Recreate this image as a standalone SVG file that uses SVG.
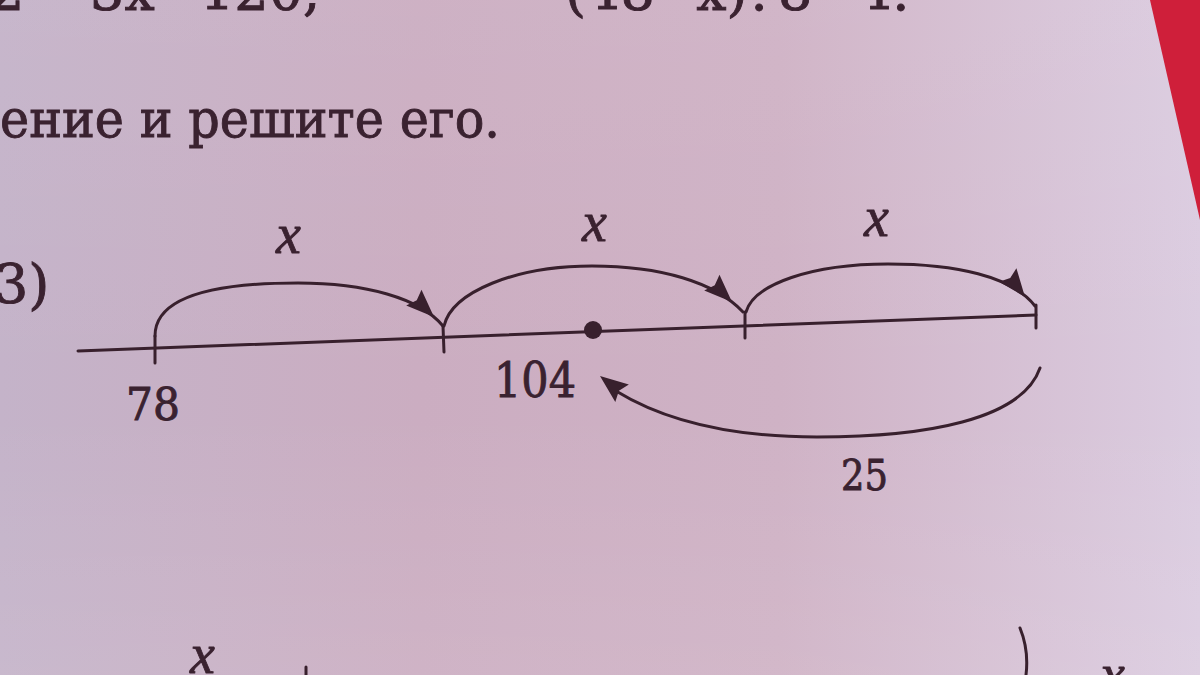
<svg xmlns="http://www.w3.org/2000/svg" width="1200" height="675" viewBox="0 0 1200 675">
<defs>
<linearGradient id="page" x1="0" y1="0" x2="1" y2="0">
<stop offset="0" stop-color="#c4b3c9"/>
<stop offset="0.35" stop-color="#cbadc1"/>
<stop offset="0.65" stop-color="#cfb2c5"/>
<stop offset="1" stop-color="#dbcce0"/>
</linearGradient>
<linearGradient id="shade" x1="0" y1="0" x2="0" y2="1">
<stop offset="0" stop-color="#ffffff" stop-opacity="0.05"/>
<stop offset="0.6" stop-color="#ffffff" stop-opacity="0"/>
<stop offset="1" stop-color="#ffffff" stop-opacity="0.08"/>
</linearGradient>
<path id="ah" d="M0,0 L-28,-11 L-24,0 L-28,11 Z"/>
<style>
.ink{stroke:#38202d;stroke-width:3;fill:none;stroke-linecap:round}
.fill{fill:#38202d}
.t{font-family:"DejaVu Serif","Liberation Serif",serif;fill:#3a2230;stroke:#3a2230;stroke-width:0.9}
.it{font-family:"Liberation Serif","DejaVu Serif",serif;font-style:italic;fill:#3a2230;stroke:#3a2230;stroke-width:0.8}
</style>
</defs>
<rect width="1200" height="675" fill="url(#page)"/>
<rect width="1200" height="675" fill="url(#shade)"/>
<polygon points="1150,0 1200,0 1200,220" fill="#cf1f3a"/>

<g id="top-text">
<text class="t" font-size="54" y="10"><tspan x="-10">2</tspan><tspan x="90">3x</tspan><tspan x="200">120;</tspan></text>
<text class="t" font-size="54" y="10"><tspan x="565">(48</tspan><tspan x="696">x)</tspan><tspan x="750">:</tspan><tspan x="778">8</tspan><tspan x="858">4.</tspan></text>
<text class="t" font-size="52" x="0" y="137" textLength="500" lengthAdjust="spacingAndGlyphs">ение и решите его.</text>
</g>

<g id="label-3">
<text class="t" font-size="54" x="-6" y="303">3)</text>
</g>

<g id="axis">
<path class="ink" d="M78,351 L1036,315"/>
</g>

<g id="point-78">
<path class="ink" d="M155,363 L155,336"/>
<text class="t" font-size="44" x="126" y="420" textLength="54" lengthAdjust="spacingAndGlyphs">78</text>
</g>
<g id="point-a">
<path class="ink" d="M443,326 L444,352"/>
</g>
<g id="point-104">
<circle cx="593" cy="330" r="9" class="fill"/>
<text class="t" font-size="48" x="494" y="397" textLength="82" lengthAdjust="spacingAndGlyphs">104</text>
</g>
<g id="point-b">
<path class="ink" d="M745,312 L745,338"/>
</g>
<g id="point-c">
<path class="ink" d="M1036,305 L1036,328"/>
</g>

<g id="connectors">
<path class="ink" d="M155,336 C155,300 205,283 298,283 C365,283 420,298 443,326"/>
<use href="#ah" class="fill" transform="translate(434,317) rotate(44)"/>
<path class="ink" d="M444,326 C452,292 515,266 592,266 C660,266 715,282 743,312"/>
<use href="#ah" class="fill" transform="translate(732,302) rotate(44)"/>
<path class="ink" d="M746,312 C754,284 812,264 888,264 C955,264 1012,276 1035,306"/>
<use href="#ah" class="fill" transform="translate(1025,297) rotate(52)"/>
<path class="ink" d="M1040,368 C1022,420 925,437 817,437 C725,437 660,418 616,391"/>
<use href="#ah" class="fill" transform="translate(600,376) rotate(218)"/>
<text class="it" font-size="56" x="276" y="253">x</text>
<text class="it" font-size="56" x="582" y="241">x</text>
<text class="it" font-size="56" x="864" y="236">x</text>
<text class="t" font-size="42" x="841" y="490" textLength="47" lengthAdjust="spacingAndGlyphs">25</text>
</g>

<g id="bottom">
<text class="it" font-size="56" x="190" y="673">x</text>
<path class="ink" d="M306,667 L306,675"/>
<path class="ink" d="M1020,628 Q1029,650 1026,675"/>
<text class="it" font-size="56" x="1100" y="693">x</text>
</g>
</svg>
